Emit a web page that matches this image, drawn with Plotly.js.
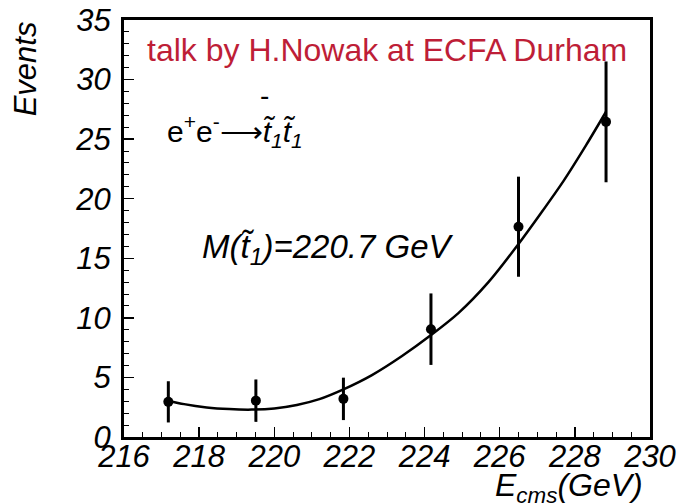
<!DOCTYPE html>
<html>
<head>
<meta charset="utf-8">
<script src="https://cdn.plot.ly/plotly-3.0.1.min.js"></script>
<style>html,body{margin:0;padding:0;background:#fff;}#chart{width:679px;height:504px;}</style>
</head>
<body>
<div id="chart"></div>
<script>
// Measured points
var energies = [217.18, 219.51, 221.84, 224.17, 226.50, 228.83];
var events   = [2.95, 3.05, 3.20, 9.05, 17.65, 26.45];
var errors   = [1.73, 1.78, 1.78, 3.00, 4.20, 5.07];

// Fit curve
var fitX = [217.18, 217.6, 218.2, 218.8, 219.4, 220.0, 220.6, 221.2, 221.84, 222.6, 223.4, 224.19, 224.9, 225.7, 226.5, 227.1, 227.7, 228.3, 228.83];
var fitY = [3.05, 2.76, 2.48, 2.34, 2.30, 2.40, 2.69, 3.18, 4.00, 5.20, 6.80, 8.60, 10.40, 13.00, 16.20, 18.80, 21.50, 24.50, 27.30];

var xTickVals = [216, 218, 220, 222, 224, 226, 228, 230];
var yTickVals = [0, 5, 10, 15, 20, 25, 30, 35];

var FONT = "Liberation Sans, Arial, Helvetica, sans-serif";

var traces = [
  {
    x: fitX, y: fitY, type: 'scatter', mode: 'lines',
    line: {color: '#000', width: 2.5, shape: 'spline', smoothing: 0.8},
    hoverinfo: 'skip'
  },
  {
    x: energies, y: events, type: 'scatter', mode: 'markers',
    marker: {color: '#000', size: 10, symbol: 'circle'},
    error_y: {type: 'data', array: errors, visible: true, color: '#000', thickness: 3, width: 0}
  }
];

var layout = {
  width: 679, height: 504,
  margin: {l: 124, r: 29, t: 20, b: 67},
  paper_bgcolor: '#fff', plot_bgcolor: '#fff',
  showlegend: false,
  font: {family: FONT, color: '#000'},
  xaxis: {
    range: [216, 230], tickvals: xTickVals, ticktext: xTickVals.map(String),
    ticks: 'inside', ticklen: 10, tickwidth: 1.5, tickcolor: '#000',
    minor: {dtick: 0.5, ticks: 'inside', ticklen: 5, tickwidth: 1, tickcolor: '#000'},
    showline: true, linecolor: '#000', linewidth: 3, mirror: true,
    showgrid: false, zeroline: false,
    tickfont: {family: FONT, size: 31, style: 'italic', color: '#000'},
    ticklabelstandoff: -10
  },
  yaxis: {
    range: [0, 35], tickvals: yTickVals, ticktext: yTickVals.map(String),
    ticks: 'inside', ticklen: 10, tickwidth: 1.5, tickcolor: '#000',
    minor: {dtick: 1, ticks: 'inside', ticklen: 5, tickwidth: 1, tickcolor: '#000'},
    showline: true, linecolor: '#000', linewidth: 3, mirror: true,
    showgrid: false, zeroline: false,
    tickfont: {family: FONT, size: 31, style: 'italic', color: '#000'},
    ticklabelstandoff: 4
  },
  annotations: [
    {text: 'talk by H.Nowak at ECFA Durham', xref: 'paper', yref: 'paper', x: 0.040, y: 0.927,
     xanchor: 'left', yanchor: 'middle', showarrow: false,
     font: {family: FONT, size: 32, color: 'rgb(190,30,55)'}},
    {text: 'e<sup>+</sup>e<sup>-</sup>\u27F6<i>t\u0303<sub>1</sub>t\u0303<sub>1</sub></i>', xref: 'paper', yref: 'paper', x: 0.078, y: 0.735,
     xanchor: 'left', yanchor: 'middle', showarrow: false,
     font: {family: FONT, size: 30, color: '#000'}},
    {text: '-', xref: 'paper', yref: 'paper', x: 0.268, y: 0.818,
     xanchor: 'center', yanchor: 'middle', showarrow: false,
     font: {family: FONT, size: 28, color: '#000'}},
    {text: '<i>M(t\u0303<sub>1</sub>)=220.7 GeV</i>', xref: 'paper', yref: 'paper', x: 0.144, y: 0.452,
     xanchor: 'left', yanchor: 'middle', showarrow: false,
     font: {family: FONT, size: 33, color: '#000'}},
    {text: '<i>E<sub>cms</sub>(GeV)</i>', xref: 'paper', yref: 'paper', x: 0.99, y: -0.12,
     xanchor: 'right', yanchor: 'middle', showarrow: false,
     font: {family: FONT, size: 32, color: '#000'}},
    {text: '<i>Events</i>', xref: 'paper', yref: 'paper', x: -0.188, y: 0.882,
     xanchor: 'center', yanchor: 'middle', textangle: -90, showarrow: false,
     font: {family: FONT, size: 31, color: '#000'}}
  ]
};

Plotly.newPlot('chart', traces, layout, {staticPlot: true, displayModeBar: false});
</script>
</body>
</html>
